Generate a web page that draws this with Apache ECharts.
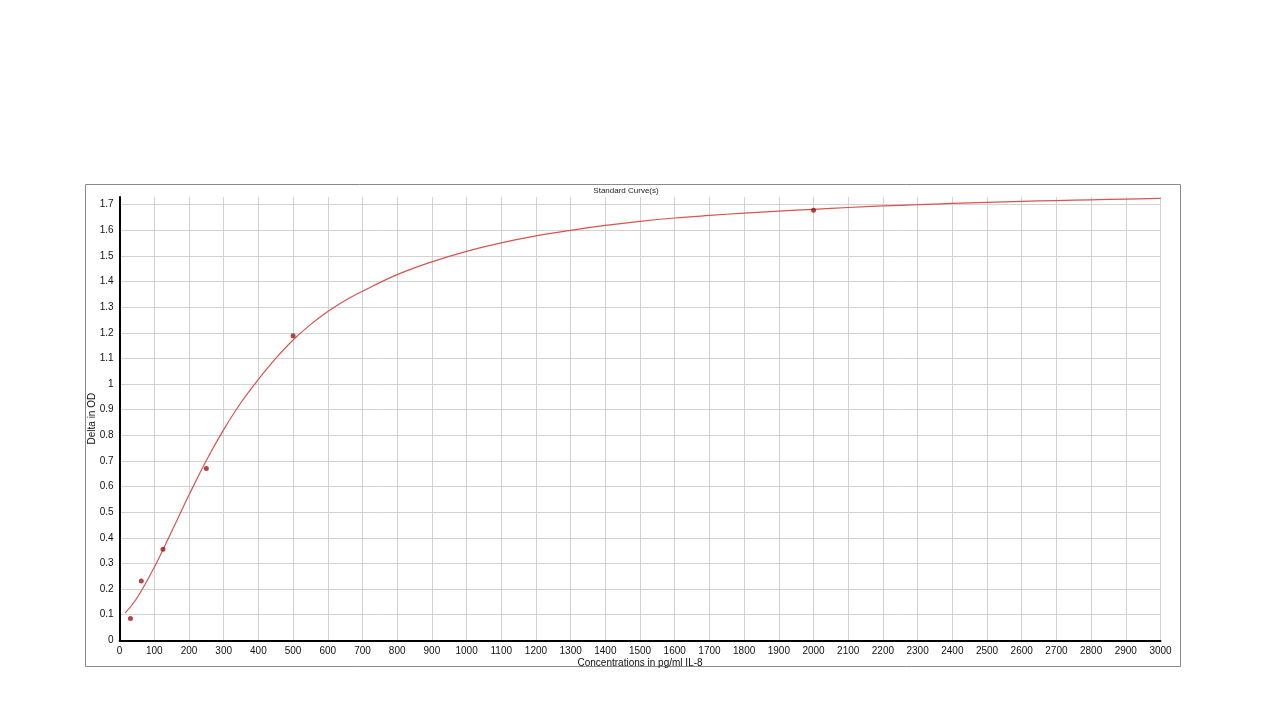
<!DOCTYPE html>
<html>
<head>
<meta charset="utf-8">
<script src="https://cdn.jsdelivr.net/npm/echarts@6/dist/echarts.min.js"></script>
<style>
html,body{margin:0;padding:0;background:#fff;}
#c{width:1280px;height:720px;}
</style>
</head>
<body>
<div id="c"></div>
<script>
// Standard points (concentration pg/ml, delta OD)
const standardX = [31.25, 62.5, 125, 250, 500, 2000];
const standardY = [0.085, 0.231, 0.355, 0.670, 1.189, 1.678];

// Fitted curve
const curveX = [15.6, 50, 100, 150, 200, 250, 300, 350, 400, 450, 500, 550, 600, 650, 700, 800, 900, 1000, 1100, 1200, 1300, 1400, 1500, 1600, 1700, 1800, 1900, 2000, 2100, 2200, 2300, 2400, 2500, 2600, 2700, 2800, 2900, 3000];
const curveY = [0.106, 0.165, 0.285, 0.425, 0.567, 0.702, 0.822, 0.928, 1.018, 1.100, 1.172, 1.232, 1.283, 1.326, 1.362, 1.427, 1.477, 1.518, 1.551, 1.578, 1.600, 1.619, 1.635, 1.648, 1.658, 1.667, 1.675, 1.682, 1.689, 1.695, 1.700, 1.705, 1.709, 1.713, 1.716, 1.719, 1.722, 1.725];

const titleText = 'Standard Curve(s)';
const xName = 'Concentrations in pg/ml IL-8';
const yName = 'Delta in OD';

const font = 'Liberation Sans';
const chart = echarts.init(document.getElementById('c'), null, {renderer: 'canvas'});
chart.setOption({
  backgroundColor: '#ffffff',
  animation: false,
  graphic: [
    {type: 'rect', shape: {x: 85.5, y: 184.5, width: 1095, height: 482}, style: {fill: 'none', stroke: '#8a8a8a', lineWidth: 1}, z: -1},
    {type: 'text', x: 626, y: 191, style: {text: titleText, font: '8px "' + font + '"', fill: '#222', textAlign: 'center', textVerticalAlign: 'middle'}}
  ],
  grid: {left: 119.6, right: 119.5, top: 197, bottom: 79.7, containLabel: false},
  xAxis: {
    type: 'value', min: 0, max: 3000, interval: 100,
    name: xName, nameLocation: 'middle', nameGap: 18, nameMoveOverlap: false,
    nameTextStyle: {fontFamily: font, fontSize: 10, color: '#111'},
    axisLine: {show: true, onZero: false, lineStyle: {color: '#000', width: 2}},
    axisTick: {show: false},
    axisLabel: {interval: 0, margin: 6, fontFamily: font, fontSize: 10, color: '#111',
      formatter: function (v) { return String(Math.round(v)); }},
    splitLine: {show: true, lineStyle: {color: '#d2d2d2', width: 1}}
  },
  yAxis: {
    type: 'value', min: 0, max: 1.73, interval: 0.1,
    name: yName, nameLocation: 'middle', nameGap: 22, nameRotate: 90, nameMoveOverlap: false,
    nameTextStyle: {fontFamily: font, fontSize: 10, color: '#111'},
    axisLine: {show: true, onZero: false, lineStyle: {color: '#000', width: 2}},
    axisTick: {show: false},
    axisLabel: {margin: 6, fontFamily: font, fontSize: 10, color: '#111', showMaxLabel: false,
      formatter: function (v) { return String(Math.round(v * 10) / 10); }},
    splitLine: {show: true, showMaxLine: false, lineStyle: {color: '#d2d2d2', width: 1}}
  },
  series: [
    {
      type: 'line', name: 'curve',
      data: curveX.map((x, i) => [x, curveY[i]]),
      smooth: 0.4, showSymbol: false, symbol: 'none',
      lineStyle: {color: '#d9534f', width: 1.2},
      z: 2
    },
    {
      type: 'scatter', name: 'standards',
      data: standardX.map((x, i) => [x, standardY[i]]),
      symbol: 'circle', symbolSize: 5,
      itemStyle: {color: '#a31515'},
      z: 3
    }
  ]
});
</script>
</body>
</html>
